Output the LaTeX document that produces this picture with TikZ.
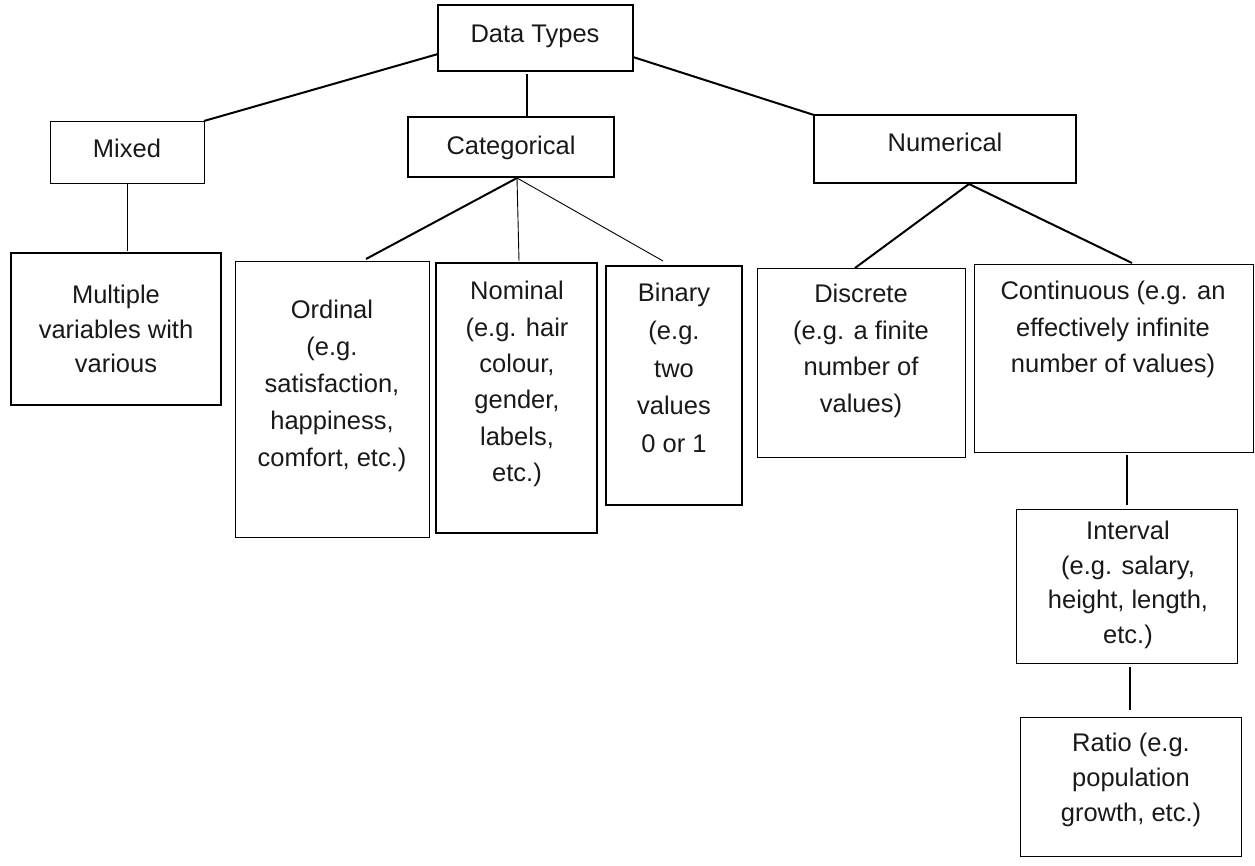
\documentclass[tikz,border=0pt]{standalone}
\usepackage{fontspec}
\setmainfont{Liberation Sans}
\begin{document}
\begin{tikzpicture}[x=1pt,y=-1pt,
  boxbase/.style={draw=black, rectangle, inner sep=0pt, outer sep=0pt},
  thickbox/.style={boxbase, line width=2.3pt},
  thinbox/.style={boxbase, line width=0.9pt},
  thickline/.style={line width=2pt},
  thinline/.style={line width=0.9pt},
  txt/.style={align=center, inner sep=0pt, text=black!90, font=\fontsize{25.5}{#1}\selectfont},
  txt/.default=36.5
]
\useasboundingbox (0,0) rectangle (1255,866);
% boxes
\node[thickbox, minimum width=195pt, minimum height=66pt] (dt) at (535.5,38) {};
\node[thinbox, minimum width=154pt, minimum height=62pt] (mixed) at (127,152) {};
\node[thickbox, minimum width=206pt, minimum height=60pt] (cat) at (511,147) {};
\node[thickbox, minimum width=262pt, minimum height=68pt] (num) at (945,149) {};
\node[thickbox, minimum width=210pt, minimum height=152pt] (mult) at (116,329) {};
\node[thinbox, minimum width=194pt, minimum height=276pt] (ord) at (332,399) {};
\node[thickbox, minimum width=161pt, minimum height=270pt] (nom) at (516.5,398) {};
\node[thickbox, minimum width=136pt, minimum height=239pt] (bin) at (674,385.5) {};
\node[thinbox, minimum width=208pt, minimum height=189pt] (disc) at (861,362.5) {};
\node[thinbox, minimum width=279pt, minimum height=188pt] (cont) at (1113.5,358) {};
\node[thinbox, minimum width=221pt, minimum height=154pt] (intv) at (1126.5,586) {};
\node[thinbox, minimum width=221pt, minimum height=139pt] (ratio) at (1130.5,786.5) {};
% texts
\node[txt] (dtT) at (535,36) {Data Types};
\node[txt] (mixedT) at (127,148) {Mixed};
\node[txt] (catT) at (511,148) {Categorical};
\node[txt] (numT) at (945,142.5) {Numerical};
\node[txt=34.5] (multT) at (116,329) {Multiple\\variables with\\various};
\node[txt=37] (ordT) at (332,385.5) {Ordinal\\(e.g.\\satisfaction,\\happiness,\\comfort, etc.)};
\node[txt=36.3] (nomT) at (517,384) {Nominal\\(e.g. hair\\colour,\\gender,\\labels,\\etc.)};
\node[txt=37.8] (binT) at (674,368) {Binary\\(e.g.\\two\\values\\0 or 1};
\node[txt=36.7] (discT) at (861,351) {Discrete\\(e.g. a finite\\number of\\values)};
\node[txt=36.5] (contT) at (1113,329.5) {Continuous (e.g. an\\effectively infinite\\number of values)};
\node[txt=34.7] (intvT) at (1128,585) {Interval\\(e.g. salary,\\height, length,\\etc.)};
\node[txt=35] (ratioT) at (1131,780) {Ratio (e.g.\\population\\growth, etc.)};
% junction coordinates
\coordinate (catB) at ([xshift=6pt,yshift=-1pt]cat.south);
\coordinate (numB) at ([xshift=24pt,yshift=-1pt]num.south);
% connectors
\draw[thickline] ([yshift=-16pt]dt.west) -- (mixed.north east);
\draw[thickline] ([xshift=-8.5pt,yshift=-3pt]dt.south) -- ([xshift=16pt]cat.north);
\draw[thickline] ([yshift=-19pt]dt.east) -- (num.north west);
\draw[thinline] (mixed.south) -- ([xshift=11pt,yshift=2pt]mult.north);
\draw[thickline] (catB) -- ([xshift=34pt,yshift=2pt]ord.north);
\draw[thinline] (catB) -- ([xshift=2.5pt,yshift=2pt]nom.north);
\draw[thinline] (catB) -- ([xshift=-11pt,yshift=5pt]bin.north);
\draw[thickline] (numB) -- ([xshift=-6pt]disc.north);
\draw[thickline] (numB) -- ([xshift=18.5pt,yshift=1pt]cont.north);
\draw[thickline] ([xshift=13.5pt,yshift=-3pt]cont.south) -- ([xshift=0.5pt,yshift=4pt]intv.north);
\draw[thickline] ([xshift=3.5pt,yshift=-4pt]intv.south) -- ([xshift=-0.5pt,yshift=7pt]ratio.north);
\end{tikzpicture}
\end{document}
